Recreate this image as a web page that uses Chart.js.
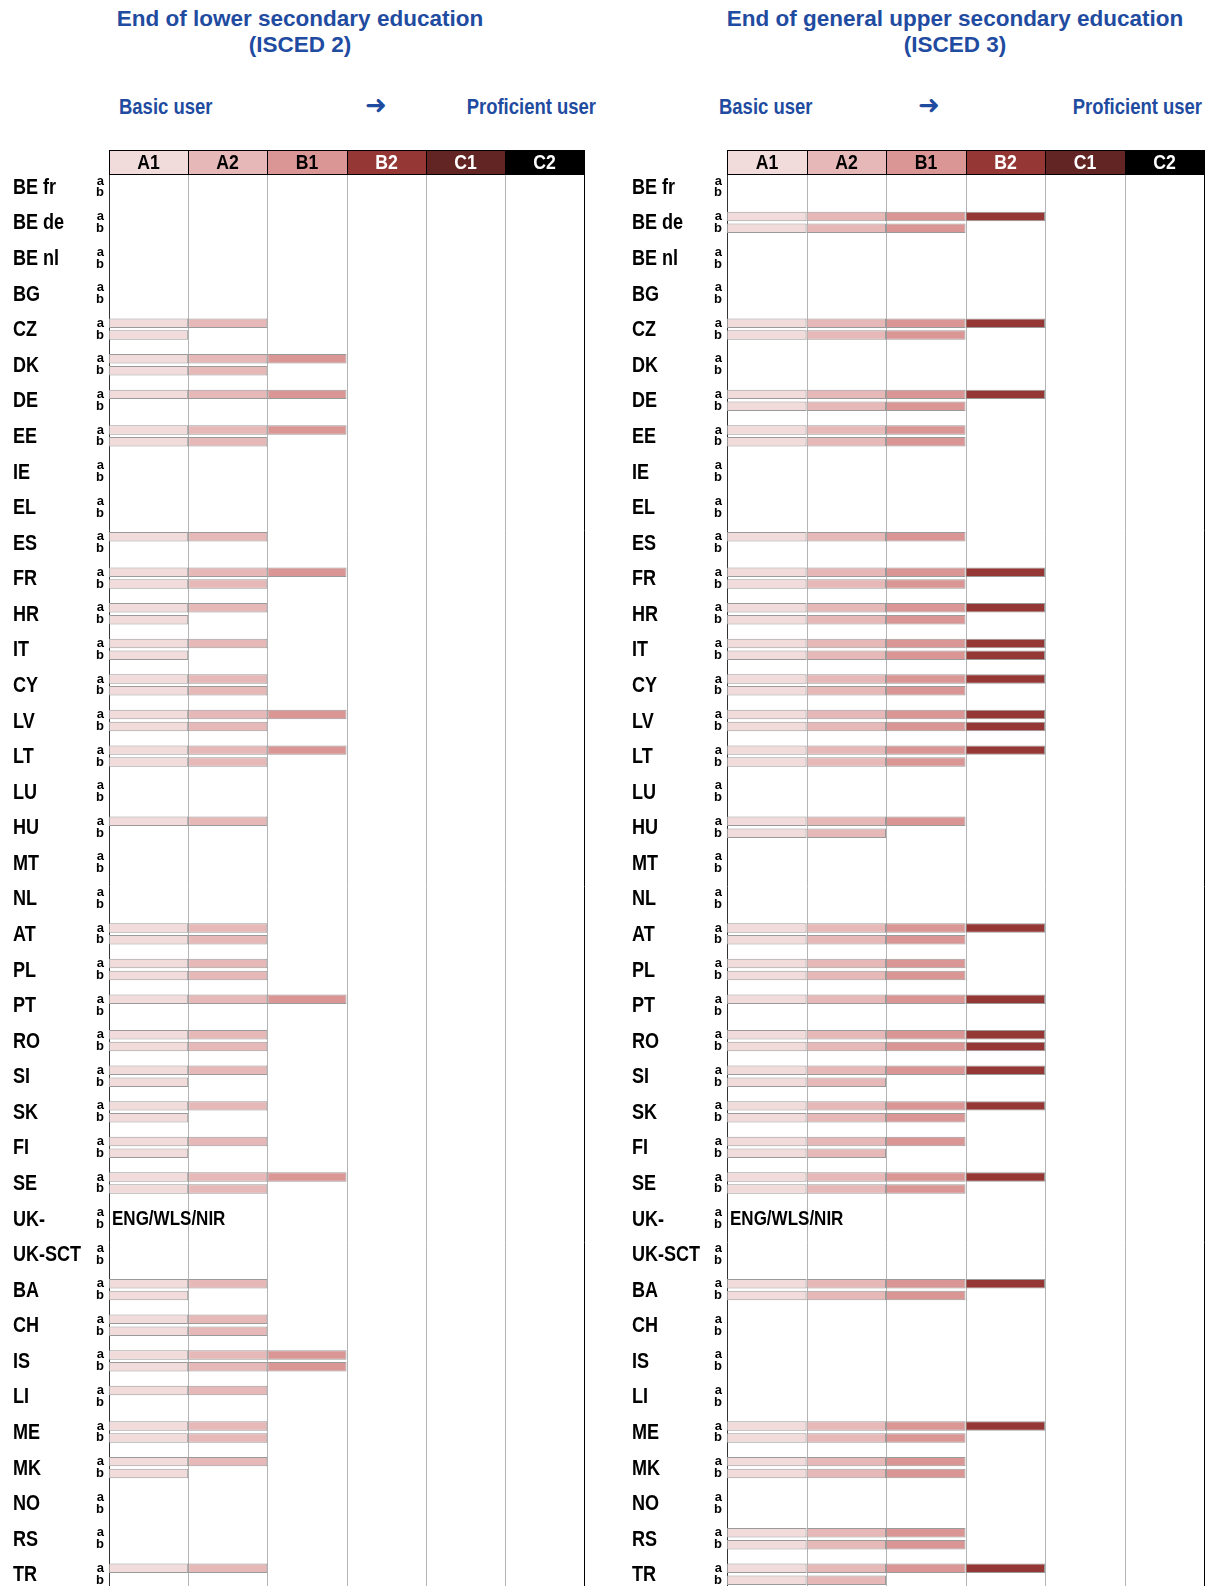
<!DOCTYPE html>
<html>
<head>
<meta charset="utf-8">
<script src="https://cdn.jsdelivr.net/npm/chart.js@4.4.1/dist/chart.umd.min.js"></script>
<style>
  html, body { margin: 0; padding: 0; background: #fff; overflow: hidden; }
  body { width: 1209px; height: 1586px; position: relative; font-family: 'Liberation Sans', Arial, sans-serif; }
  .title { position: absolute; top: 6px; width: 600px; text-align: center; color: #1f4ba0;
           font-weight: bold; font-size: 22.5px; line-height: 26px; }
  .scale { position: absolute; top: 94px; color: #1f4ba0; font-weight: bold; font-size: 22px; line-height: 26px;
           white-space: nowrap; transform: scaleX(0.84); transform-origin: left center; }
  .scale.right { transform-origin: right center; }
  .arrow { position: absolute; top: 92px; color: #1f4ba0; font-weight: bold; font-size: 26px; line-height: 26px;
           font-family: 'DejaVu Sans', sans-serif; }
  canvas { position: absolute; top: 150px; }
</style>
</head>
<body>
<div class="title" style="left:0">End of lower secondary education<br>(ISCED 2)</div>
<div class="title" style="left:655px">End of general upper secondary education<br>(ISCED 3)</div>

<div class="scale" style="left:119px">Basic user</div>
<div class="arrow" style="left:365px">&#10140;</div>
<div class="scale right" style="right:613px">Proficient user</div>
<div class="scale" style="left:719px">Basic user</div>
<div class="arrow" style="left:918px">&#10140;</div>
<div class="scale right" style="right:7px">Proficient user</div>

<canvas id="isced2" width="600" height="1465" style="left:0"></canvas>
<canvas id="isced3" width="597" height="1465" style="left:612px"></canvas>

<script>
// countries, top to bottom
const countries = ['BE fr', 'BE de', 'BE nl', 'BG', 'CZ', 'DK', 'DE', 'EE', 'IE', 'EL',
  'ES', 'FR', 'HR', 'IT', 'CY', 'LV', 'LT', 'LU', 'HU', 'MT',
  'NL', 'AT', 'PL', 'PT', 'RO', 'SI', 'SK', 'FI', 'SE', 'UK-',
  'UK-SCT', 'BA', 'CH', 'IS', 'LI', 'ME', 'MK', 'NO', 'RS', 'TR'];

// CEFR levels (column headers)
const levels = ['A1', 'A2', 'B1', 'B2', 'C1', 'C2'];

// number of levels reached per country: row a / row b
const isced2A = [0, 0, 0, 0, 2, 3, 3, 3, 0, 0, 2, 3, 2, 2, 2, 3, 3, 0, 2, 0,
                 0, 2, 2, 3, 2, 2, 2, 2, 3, 0, 0, 2, 2, 3, 2, 2, 2, 0, 0, 2];
const isced2B = [0, 0, 0, 0, 1, 2, 0, 2, 0, 0, 0, 2, 1, 1, 2, 2, 2, 0, 0, 0,
                 0, 2, 2, 0, 2, 1, 1, 1, 2, 0, 0, 1, 2, 3, 0, 2, 1, 0, 0, 0];
const isced3A = [0, 4, 0, 0, 4, 0, 4, 3, 0, 0, 3, 4, 4, 4, 4, 4, 4, 0, 3, 0,
                 0, 4, 3, 4, 4, 4, 4, 3, 4, 0, 0, 4, 0, 0, 0, 4, 3, 0, 3, 4];
const isced3B = [0, 3, 0, 0, 3, 0, 3, 3, 0, 0, 0, 3, 3, 4, 3, 4, 3, 0, 2, 0,
                 0, 3, 3, 0, 4, 2, 3, 2, 3, 0, 0, 3, 0, 0, 0, 3, 3, 0, 3, 2];

const levelColors = ['#f2dcdb', '#e6b9b8', '#d99694', '#953735', '#632523', '#000000'];
const headerText = ['#000', '#000', '#000', '#fff', '#fff', '#fff'];
const sans = "'Liberation Sans', Arial, sans-serif";

// each country gets three slots: a, b and an empty spacer
const slotLabels = [];
countries.forEach(() => slotLabels.push('a', 'b', ''));

function buildDatasets(rowA, rowB) {
  return levels.map((lv, k) => {
    const data = [];
    countries.forEach((c, i) => {
      data.push(rowA[i] > k ? 1 : null);
      data.push(rowB[i] > k ? 1 : null);
      data.push(null);
    });
    return {
      label: lv,
      data: data,
      backgroundColor: levelColors[k],
      borderColor: '#9a9a9a',
      borderWidth: 1,
      borderSkipped: false,
      barPercentage: 0.8,
      categoryPercentage: 1
    };
  });
}

// condensed bold text (Arial Narrow look)
function narrowText(ctx, text, x, y, size, squeeze) {
  ctx.save();
  ctx.translate(x, y);
  ctx.scale(squeeze, 1);
  ctx.font = 'bold ' + size + 'px ' + sans;
  ctx.fillText(text, 0, 0);
  ctx.restore();
}

const decor = {
  id: 'decor',
  beforeDatasetsDraw(chart) {
    const { ctx, chartArea, scales: { x } } = chart;
    ctx.save();
    for (let k = 0; k <= levels.length; k++) {
      const px = Math.round(x.getPixelForValue(k)) + 0.5;
      ctx.strokeStyle = k === 0 ? '#333' : (k === levels.length ? '#000' : '#b4b4b4');
      ctx.lineWidth = 1;
      ctx.beginPath();
      ctx.moveTo(px, chartArea.top);
      ctx.lineTo(px, chartArea.bottom);
      ctx.stroke();
    }
    ctx.restore();
  },
  afterDraw(chart, args, opts) {
    const { ctx, chartArea, scales: { x, y } } = chart;
    ctx.save();
    // header row with the level names
    const top = chartArea.top - 25;
    ctx.textAlign = 'center';
    ctx.textBaseline = 'middle';
    for (let k = 0; k < levels.length; k++) {
      const x0 = Math.round(x.getPixelForValue(k));
      const x1 = Math.round(x.getPixelForValue(k + 1));
      ctx.fillStyle = levelColors[k];
      ctx.fillRect(x0, top, x1 - x0, 24);
      ctx.strokeStyle = '#000';
      ctx.lineWidth = 1;
      ctx.strokeRect(x0 + 0.5, top + 0.5, x1 - x0, 24);
      ctx.fillStyle = headerText[k];
      narrowText(ctx, levels[k], (x0 + x1) / 2, top + 13, 21, 0.84);
    }
    // country names
    ctx.fillStyle = '#000';
    ctx.textAlign = 'left';
    countries.forEach((c, i) => {
      const yc = (y.getPixelForValue(i * 3) + y.getPixelForValue(i * 3 + 1)) / 2;
      narrowText(ctx, c, opts.labelX, yc + 1, 22, 0.82);
    });
    // note for the UK row
    const uk = countries.indexOf('UK-');
    const yn = (y.getPixelForValue(uk * 3) + y.getPixelForValue(uk * 3 + 1)) / 2;
    narrowText(ctx, 'ENG/WLS/NIR', chartArea.left + 3, yn + 1, 21, 0.81);
    ctx.restore();
  }
};

function makePanel(id, rowA, rowB, padLeft, padRight, labelX) {
  return new Chart(document.getElementById(id), {
    type: 'bar',
    data: { labels: slotLabels, datasets: buildDatasets(rowA, rowB) },
    options: {
      indexAxis: 'y',
      responsive: false,
      animation: false,
      layout: { padding: { left: padLeft, right: padRight, top: 25, bottom: 17 } },
      scales: {
        x: { type: 'linear', min: 0, max: levels.length, stacked: true, display: false },
        y: {
          stacked: true,
          grid: { display: false },
          border: { display: false },
          ticks: { autoSkip: false, padding: -3, color: '#000',
                   font: { family: sans, size: 13, weight: 'bold', lineHeight: 1 } },
          afterFit: (scale) => { scale.width = 20; }
        }
      },
      plugins: {
        legend: { display: false },
        tooltip: { enabled: false },
        decor: { labelX: labelX }
      }
    },
    plugins: [decor]
  });
}

makePanel('isced2', isced2A, isced2B, 89, 16, 13);
makePanel('isced3', isced3A, isced3B, 95, 5, 20);
</script>
</body>
</html>
